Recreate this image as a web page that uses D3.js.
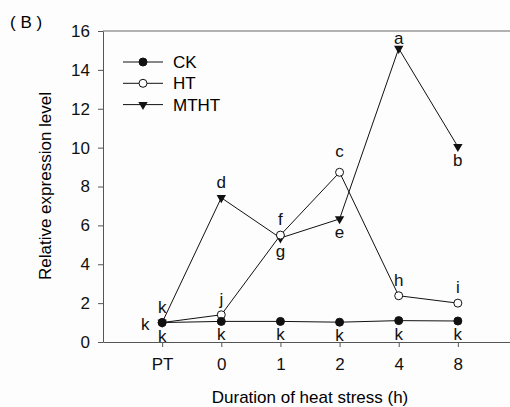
<!DOCTYPE html>
<html>
<head>
<meta charset="utf-8">
<script src="https://cdn.jsdelivr.net/npm/d3@7"></script>
<style>
  body { margin: 0; background: #fdfdfd; }
  svg { display: block; font-family: "Liberation Sans", Arial, sans-serif; }
  .axis text { fill: #111; }
  .axis path, .axis line { stroke: #555; }
  .lbl { font-size: 17px; fill: #111; }
</style>
</head>
<body>
<div class="graph"></div>
<script>
var categories = ["PT", "0", "1", "2", "4", "8"];
var ckValues   = [1.0, 1.06, 1.06, 1.02, 1.1, 1.08];
var htValues   = [1.0, 1.4, 5.5, 8.73, 2.38, 2.0];
var mthtValues = [1.0, 7.42, 5.35, 6.33, 15.1, 10.05];
var ckLetters   = ["k", "k", "k", "k", "k", "k"];
var htLetters   = ["k", "j", "f", "c", "h", "i"];
var mthtLetters = ["k", "d", "g", "e", "a", "b"];
var yTicks = [0, 2, 4, 6, 8, 10, 12, 14, 16];

var width = 510, height = 407;
var plotLeft = 103, plotTop = 31, plotBottom = 342;

var svg = d3.select(".graph").append("svg")
    .attr("width", width)
    .attr("height", height);

var x = d3.scalePoint()
    .domain(categories)
    .range([plotLeft, plotLeft + 414])
    .padding(1);

var y = d3.scaleLinear()
    .domain([0, 16])
    .range([plotBottom, plotTop]);

// top frame line
svg.append("line")
    .attr("x1", plotLeft).attr("x2", width)
    .attr("y1", plotTop).attr("y2", plotTop)
    .attr("stroke", "#666");

svg.append("g")
    .attr("class", "axis")
    .attr("transform", "translate(0," + plotBottom + ")")
    .call(d3.axisBottom(x).tickSizeInner(5).tickSizeOuter(0).tickPadding(11));

svg.append("g")
    .attr("class", "axis")
    .attr("transform", "translate(" + plotLeft + ",0)")
    .call(d3.axisLeft(y).tickValues(yTicks).tickSizeInner(5).tickSizeOuter(0).tickPadding(8));

svg.selectAll(".axis text").style("font-size", "17px");

svg.append("text")
    .attr("x", 310).attr("y", 403)
    .attr("text-anchor", "middle")
    .style("font-size", "17px")
    .text("Duration of heat stress (h)");

svg.append("text")
    .attr("transform", "translate(51,186) rotate(-90)")
    .attr("text-anchor", "middle")
    .style("font-size", "17px")
    .text("Relative expression level");

svg.append("text")
    .attr("x", 10).attr("y", 28)
    .style("font-size", "17px")
    .text("( B )");

var series = [
  {name: "MTHT", values: mthtValues, letters: mthtLetters, place: ["left", "above", "below", "below", "top", "below"]},
  {name: "HT", values: htValues, letters: htLetters, place: ["above", "above", "above", "high", "above", "above"]},
  {name: "CK", values: ckValues, letters: ckLetters, place: ["below", "below", "below", "below", "below", "below"]}
];

var line = d3.line()
    .x(function(d, i) { return x(categories[i]); })
    .y(function(d) { return y(d); });

series.forEach(function(s) {
  svg.append("path")
      .attr("d", line(s.values))
      .attr("fill", "none")
      .attr("stroke", "#111")
      .attr("stroke-width", 1);
});

var tri = d3.symbol().type(d3.symbolTriangle).size(38);

function drawMarker(g, name, cx, cy) {
  if (name === "MTHT") {
    g.append("path")
        .attr("d", tri())
        .attr("transform", "translate(" + cx + "," + cy + ") rotate(180)")
        .attr("fill", "#111");
  } else {
    g.append("circle")
        .attr("cx", cx).attr("cy", cy).attr("r", 4)
        .attr("fill", name === "HT" ? "#fff" : "#111")
        .attr("stroke", "#111");
  }
}

series.forEach(function(s) {
  var g = svg.append("g");
  s.values.forEach(function(v, i) {
    drawMarker(g, s.name, x(categories[i]), y(v));
  });
});

// significance letters
var offsets = {above: -10, high: -15, top: -4, below: 19};
series.forEach(function(s) {
  s.values.forEach(function(v, i) {
    var px = x(categories[i]), py = y(v);
    var p = s.place[i];
    var t = svg.append("text").attr("class", "lbl")
        .attr("text-anchor", "middle")
        .text(s.letters[i]);
    if (p === "left") t.attr("x", px - 17).attr("y", py + 7);
    else t.attr("x", px).attr("y", py + offsets[p]);
  });
});

// legend
var legend = svg.append("g").attr("transform", "translate(123,62)");
["CK", "HT", "MTHT"].forEach(function(name, i) {
  var row = legend.append("g").attr("transform", "translate(0," + (i * 21.3) + ")");
  row.append("line")
      .attr("x1", 0).attr("x2", 40)
      .attr("stroke", "#111");
  drawMarker(row, name, 20, 0);
  row.append("text")
      .attr("x", 50).attr("y", 6)
      .style("font-size", "17px")
      .text(name);
});
</script>
</body>
</html>
